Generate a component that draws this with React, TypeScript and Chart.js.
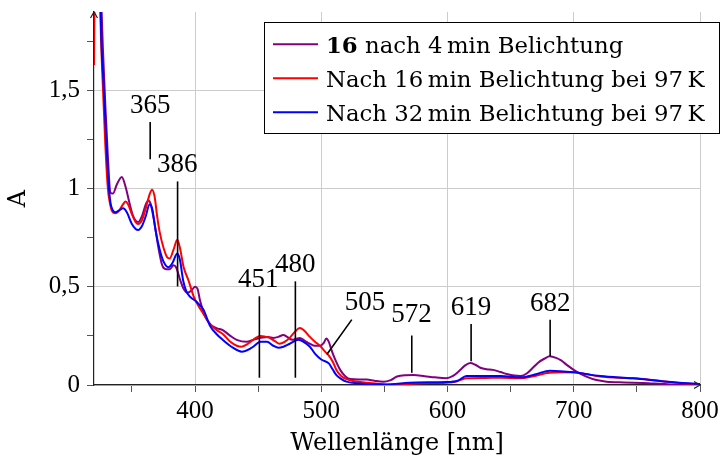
import React, { useEffect, useRef } from 'react';
import { Chart, registerables } from 'chart.js';

Chart.register(...registerables);

// ---- data (wavelength nm, absorbance A) ----
const violetSpectrum: [number, number][] = [
  [323, 2.6], [325, 2.1], [327, 1.72], [329, 1.42], [331, 1.16], [333, 0.98], [335, 0.975], [338, 1.02], [342, 1.06], [345, 1.01],
  [348, 0.93], [351, 0.86], [355, 0.83], [358, 0.86], [361, 0.92], [363, 0.94], [365, 0.92], [368, 0.82], [371, 0.7], [374, 0.61],
  [377, 0.59], [380, 0.59], [383, 0.61], [385, 0.6], [388, 0.54], [391, 0.49], [394, 0.47], [397, 0.48], [400, 0.5], [402, 0.49],
  [404, 0.43], [408, 0.35], [412, 0.31], [417, 0.29], [422, 0.28], [428, 0.25], [433, 0.23], [441, 0.22], [446, 0.23], [452, 0.24],
  [458, 0.245], [462, 0.24], [466, 0.245], [470, 0.255], [473, 0.245], [477, 0.23], [480, 0.235], [483, 0.24], [487, 0.225], [491, 0.21],
  [495, 0.2], [499, 0.2], [502, 0.215], [504, 0.237], [506, 0.22], [508, 0.18], [511, 0.13], [515, 0.077], [519, 0.045], [523, 0.03],
  [530, 0.028], [536, 0.028], [542, 0.022], [549, 0.017], [555, 0.025], [560, 0.043], [567, 0.05], [573, 0.051], [582, 0.045], [590, 0.039],
  [599, 0.035], [604, 0.045], [609, 0.07], [614, 0.1], [618, 0.112], [622, 0.103], [626, 0.088], [631, 0.08], [636, 0.077], [642, 0.066],
  [647, 0.056], [653, 0.048], [658, 0.046], [663, 0.06], [668, 0.09], [672, 0.115], [677, 0.135], [681, 0.146], [686, 0.138], [690, 0.125],
  [695, 0.1], [700, 0.077], [705, 0.058], [710, 0.043], [718, 0.025], [726, 0.017], [740, 0.013], [755, 0.01], [774, 0.004], [790, 0.001],
  [800, 0.0],
];

const red16Spectrum: [number, number][] = [
  [320, 1.63], [321, 2.5], [322.5, 2.9], [324.3, 2.1], [325.5, 1.78], [327.5, 1.45], [329, 1.22], [331, 1.0], [332.5, 0.93], [334, 0.89],
  [337, 0.875], [340, 0.89], [343, 0.92], [345, 0.935], [347, 0.92], [350, 0.87], [353, 0.83], [355, 0.82], [358, 0.84], [361, 0.9],
  [364, 0.97], [366, 0.995], [368, 0.96], [370, 0.86], [372, 0.78], [375, 0.7], [378, 0.65], [380, 0.645], [383, 0.69], [386, 0.74],
  [388, 0.7], [391, 0.6], [395, 0.53], [399, 0.45], [403, 0.4], [406, 0.37], [412, 0.31], [417, 0.28], [422, 0.26], [428, 0.22],
  [433, 0.2], [437, 0.195], [442, 0.21], [447, 0.235], [452, 0.25], [456, 0.245], [459, 0.24], [463, 0.225], [467, 0.21], [471, 0.22],
  [475, 0.24], [479, 0.27], [483, 0.29], [486, 0.28], [491, 0.245], [495, 0.22], [499, 0.2], [503, 0.17], [506, 0.15], [509, 0.12],
  [512, 0.077], [516, 0.045], [520, 0.03], [525, 0.02], [536, 0.012], [545, 0.006], [555, 0.0], [575, 0.008], [599, 0.012], [606, 0.016],
  [610, 0.025], [615, 0.034], [630, 0.036], [642, 0.037], [658, 0.034], [668, 0.045], [681, 0.063], [700, 0.065], [710, 0.055], [721, 0.043],
  [747, 0.034], [774, 0.017], [800, 0.0],
];

const blue32Spectrum: [number, number][] = [
  [322, 3.0], [324, 2.25], [325.8, 1.76], [327.9, 1.5], [329.7, 1.25], [331.9, 1.0], [333, 0.93], [334.5, 0.895], [337, 0.88], [340, 0.89],
  [343, 0.9], [346, 0.88], [350, 0.82], [353, 0.795], [355, 0.79], [358, 0.81], [361, 0.86], [364, 0.92], [366, 0.9], [369, 0.78],
  [372, 0.69], [375, 0.63], [379, 0.6], [382, 0.62], [386, 0.67], [388, 0.64], [390.7, 0.53], [393, 0.48], [396, 0.45], [401, 0.425],
  [406.6, 0.384], [412, 0.3], [417, 0.26], [422, 0.23], [430, 0.19], [437, 0.17], [445, 0.19], [452, 0.22], [457, 0.22], [462, 0.2],
  [466, 0.19], [470, 0.195], [475, 0.21], [482, 0.23], [486, 0.22], [491, 0.195], [495, 0.16], [500, 0.13], [506, 0.11], [509, 0.08],
  [512, 0.05], [516, 0.03], [520, 0.017], [530, 0.008], [549, 0.003], [575, 0.013], [599, 0.015], [608, 0.022], [615, 0.046], [642, 0.046],
  [658, 0.039], [670, 0.055], [681, 0.073], [700, 0.065], [721, 0.046], [747, 0.034], [774, 0.017], [800, 0.005],
];

const seriesBold = ['16', '', ''];
const seriesLabels = [
  ' nach 4\u2009min Belichtung',
  'Nach 16\u2009min Belichtung bei 97\u2009K',
  'Nach 32\u2009min Belichtung bei 97\u2009K',
];
const seriesColors = ['#800080', '#ff0000', '#0000ff'];

// axes
const xMin = 320;
const xMax = 800;
const xTickValues = [350, 400, 450, 500, 550, 600, 650, 700, 750, 800];
const yMin = 0;
const yMax = 1.9;
const yTickValues = [0, 0.25, 0.5, 0.75, 1, 1.25, 1.5, 1.75];
const xTitle = 'Wellenlänge [nm]';
const yTitle = 'A';

// peak annotations (data units)
const peakLabels = ['365', '386', '451', '480', '505', '572', '619', '682'];
const peakLabelNm = [364.5, 386, 450, 479.5, 534.7, 571.5, 618.7, 681.3];
const peakLabelA = [1.386, 1.086, 0.501, 0.577, 0.384, 0.323, 0.3585, 0.379];
const peakLineTopNm = [364.5, 386.2, 451, 479.5, 524.2, 571.7, 618.7, 681.3];
const peakLineBottomNm = [364.5, 386.2, 451, 479.5, 504.4, 571.7, 618.7, 681.3];
const peakLineTopA = [1.34, 1.037, 0.452, 0.528, 0.333, 0.252, 0.311, 0.333];
const peakLineBottomA = [1.15, 0.502, 0.037, 0.037, 0.155, 0.062, 0.121, 0.146];

const TEXT_FONT = '"DejaVu Serif", serif';
const NUM_FONT = '"Liberation Serif", serif';

const isMajorY = (v: number) => Math.abs(v * 2 - Math.round(v * 2)) < 1e-6;
const isMajorX = (v: number) => Math.abs(v % 100) < 1e-6;

const overlayPlugin = {
  id: 'overlay',
  afterDatasetsDraw(chart: any) {
    const { ctx, chartArea: ca, scales } = chart;
    const x = scales.x;
    const y = scales.y;
    ctx.save();

    // axis arrow heads
    ctx.strokeStyle = '#222';
    ctx.lineWidth = 1.2;
    ctx.beginPath();
    ctx.moveTo(ca.left - 3.5, ca.top + 6);
    ctx.lineTo(ca.left, ca.top);
    ctx.lineTo(ca.left + 3.5, ca.top + 6);
    ctx.stroke();
    ctx.beginPath();
    ctx.moveTo(ca.right - 6, ca.bottom - 3.5);
    ctx.lineTo(ca.right, ca.bottom);
    ctx.lineTo(ca.right - 6, ca.bottom + 3.5);
    ctx.stroke();

    // peak annotations
    ctx.strokeStyle = '#000';
    ctx.lineWidth = 1.6;
    ctx.fillStyle = '#000';
    ctx.font = `27px ${NUM_FONT}`;
    ctx.textAlign = 'center';
    ctx.textBaseline = 'alphabetic';
    peakLabels.forEach((lab, i) => {
      ctx.beginPath();
      ctx.moveTo(x.getPixelForValue(peakLineTopNm[i]), y.getPixelForValue(peakLineTopA[i]));
      ctx.lineTo(x.getPixelForValue(peakLineBottomNm[i]), y.getPixelForValue(peakLineBottomA[i]));
      ctx.stroke();
      ctx.fillText(lab, x.getPixelForValue(peakLabelNm[i]), y.getPixelForValue(peakLabelA[i]));
    });

    // legend box
    const bx = 264.5;
    const by = 22.5;
    const bw = 455;
    const bh = 111;
    ctx.fillStyle = '#fff';
    ctx.fillRect(bx, by, bw, bh);
    ctx.strokeStyle = '#000';
    ctx.lineWidth = 1;
    ctx.strokeRect(bx, by, bw, bh);
    ctx.textAlign = 'left';
    ctx.textBaseline = 'alphabetic';
    seriesLabels.forEach((lab, i) => {
      const ry = 44.3 + i * 34;
      ctx.strokeStyle = seriesColors[i];
      ctx.lineWidth = 2;
      ctx.beginPath();
      ctx.moveTo(273, ry);
      ctx.lineTo(318, ry);
      ctx.stroke();
      let tx = 326;
      ctx.fillStyle = '#000';
      if (seriesBold[i]) {
        ctx.font = `bold 22.8px ${TEXT_FONT}`;
        ctx.fillText(seriesBold[i], tx, ry + 8.4);
        tx += ctx.measureText(seriesBold[i]).width;
      }
      ctx.font = `22.8px ${TEXT_FONT}`;
      ctx.fillText(lab, tx, ry + 8.4);
    });
    ctx.restore();
  },
};

export default function App() {
  const canvasRef = useRef<HTMLCanvasElement | null>(null);

  useEffect(() => {
    const canvas = canvasRef.current;
    if (!canvas) return;
    const spectra = [violetSpectrum, red16Spectrum, blue32Spectrum];
    const chart = new Chart(canvas, {
      type: 'line',
      data: {
        datasets: spectra.map((s, i) => ({
          label: seriesBold[i] + seriesLabels[i],
          data: s.map(([nm, a]) => ({ x: nm, y: a })),
          borderColor: seriesColors[i],
          backgroundColor: seriesColors[i],
          borderWidth: 2,
          pointRadius: 0,
          fill: false,
          cubicInterpolationMode: 'monotone' as const,
          order: 3 - i,
        })),
      },
      options: {
        responsive: false,
        animation: false,
        devicePixelRatio: 1,
        layout: { padding: { top: 12, right: 21, left: 0, bottom: 0 } },
        plugins: { legend: { display: false }, tooltip: { enabled: false } },
        scales: {
          x: {
            type: 'linear',
            position: 'bottom',
            min: xMin,
            max: xMax,
            afterBuildTicks: (scale: any) => {
              scale.ticks = xTickValues.map((v) => ({ value: v }));
            },
            afterFit: (scale: any) => {
              scale.height = 79;
              scale.paddingLeft = 0;
              scale.paddingRight = 0;
            },
            ticks: {
              autoSkip: false,
              maxRotation: 0,
              color: '#000',
              padding: 4,
              font: { family: NUM_FONT, size: 25 },
              callback: (v: any) => (isMajorX(Number(v)) ? String(v) : ''),
            },
            grid: {
              color: (c: any) => (isMajorX(c.tick.value) ? '#cccccc' : 'rgba(0,0,0,0)'),
              tickColor: '#555',
              tickLength: 7,
              lineWidth: 1,
            },
            border: { color: '#222', width: 1.2 },
            title: {
              display: true,
              text: xTitle,
              color: '#000',
              font: { family: TEXT_FONT, size: 24 },
              padding: { top: 0, bottom: 6 },
            },
          },
          y: {
            type: 'linear',
            position: 'left',
            min: yMin,
            max: yMax,
            afterBuildTicks: (scale: any) => {
              scale.ticks = yTickValues.map((v) => ({ value: v }));
            },
            afterFit: (scale: any) => {
              scale.width = 94;
              scale.paddingTop = 0;
              scale.paddingBottom = 0;
            },
            ticks: {
              autoSkip: false,
              color: '#000',
              padding: 7,
              font: { family: NUM_FONT, size: 25 },
              callback: (v: any) => (isMajorY(Number(v)) ? String(v).replace('.', ',') : ''),
            },
            grid: {
              color: (c: any) => (isMajorY(c.tick.value) ? '#cccccc' : 'rgba(0,0,0,0)'),
              tickColor: '#555',
              tickLength: 7,
              lineWidth: 1,
            },
            border: { color: '#222', width: 1.2 },
            title: {
              display: true,
              text: yTitle,
              color: '#000',
              font: { family: TEXT_FONT, size: 24 },
              padding: { top: 4, bottom: 0 },
            },
          },
        },
      },
      plugins: [overlayPlugin],
    });
    return () => chart.destroy();
  }, []);

  return (
    <div style={{ position: 'fixed', left: 0, top: 0, width: 721, height: 464, background: '#fff' }}>
      <canvas ref={canvasRef} width={721} height={464} style={{ display: 'block' }} />
    </div>
  );
}
